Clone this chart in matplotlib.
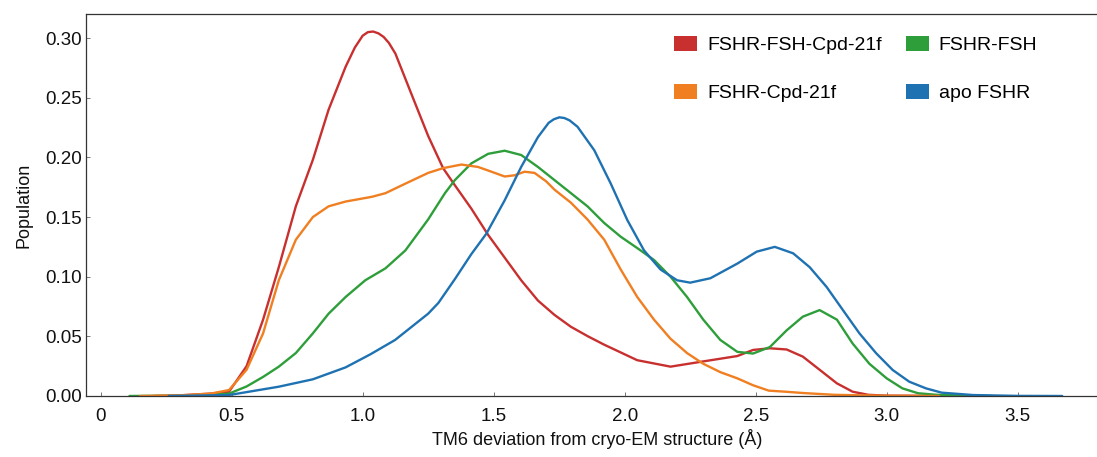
import matplotlib
matplotlib.use("Agg")
import matplotlib.pyplot as plt
from matplotlib.patches import Patch

plt.rcParams['font.family'] = ['Liberation Sans', 'DejaVu Sans']

# ---- data ----
labels = ["FSHR-FSH-Cpd-21f", "FSHR-Cpd-21f", "FSHR-FSH", "apo FSHR"]
colors = ["#c8302f", "#f07f22", "#2e9e3a", "#1f72b2"]

red_x = [0.20, 0.30, 0.42, 0.49, 0.557, 0.62, 0.68, 0.745, 0.81, 0.87, 0.935, 0.97, 1.0,
         1.02, 1.04, 1.06, 1.08, 1.10, 1.125, 1.19, 1.25, 1.307, 1.346, 1.415, 1.479, 1.542,
         1.605, 1.669, 1.732, 1.795, 1.86, 1.922, 2.048, 2.175, 2.30, 2.43, 2.49, 2.554,
         2.618, 2.68, 2.744, 2.81, 2.87, 2.93, 3.0, 3.3]
red_y = [0.0, 0.0005, 0.002, 0.0036, 0.025, 0.064, 0.108, 0.159, 0.198, 0.240, 0.276, 0.292,
         0.302, 0.305, 0.3055, 0.304, 0.301, 0.296, 0.287, 0.251, 0.218, 0.191, 0.1785,
         0.157, 0.135, 0.116, 0.097, 0.080, 0.068, 0.058, 0.050, 0.043, 0.030, 0.0246,
         0.029, 0.0335, 0.0386, 0.040, 0.039, 0.033, 0.022, 0.0106, 0.0036, 0.001, 0.0003,
         0.0]

orange_x = [0.15, 0.30, 0.42, 0.49, 0.557, 0.62, 0.68, 0.745, 0.81, 0.87, 0.935, 1.036, 1.087,
            1.163, 1.25, 1.307, 1.377, 1.44, 1.479, 1.542, 1.58, 1.618, 1.656, 1.70, 1.732,
            1.795, 1.858, 1.922, 1.985, 2.048, 2.112, 2.175, 2.238, 2.30, 2.365, 2.43, 2.49,
            2.55, 2.62, 2.68, 2.80, 3.0, 3.2]
orange_y = [0.0, 0.0005, 0.002, 0.005, 0.022, 0.0525, 0.097, 0.131, 0.150, 0.159, 0.163,
            0.167, 0.170, 0.178, 0.187, 0.191, 0.194, 0.192, 0.189, 0.184, 0.185, 0.188,
            0.187, 0.180, 0.173, 0.162, 0.148, 0.131, 0.106, 0.083, 0.064, 0.048, 0.036,
            0.027, 0.020, 0.0148, 0.009, 0.0045, 0.0035, 0.0025, 0.001, 0.0002, 0.0]

green_x = [0.11, 0.30, 0.42, 0.49, 0.557, 0.62, 0.68, 0.745, 0.81, 0.87, 0.935, 1.01, 1.087,
           1.163, 1.25, 1.314, 1.352, 1.415, 1.479, 1.542, 1.605, 1.669, 1.732, 1.795, 1.858,
           1.922, 1.985, 2.048, 2.112, 2.175, 2.238, 2.30, 2.365, 2.43, 2.49, 2.554, 2.618,
           2.68, 2.744, 2.81, 2.87, 2.934, 3.0, 3.06, 3.12, 3.19, 3.40]
green_y = [0.0, 0.0003, 0.001, 0.002, 0.008, 0.016, 0.0246, 0.036, 0.0525, 0.069, 0.083,
           0.097, 0.107, 0.122, 0.148, 0.170, 0.181, 0.195, 0.203, 0.2056, 0.202, 0.192,
           0.181, 0.170, 0.159, 0.145, 0.1335, 0.124, 0.114, 0.100, 0.083, 0.064, 0.047,
           0.037, 0.0356, 0.041, 0.055, 0.0665, 0.072, 0.064, 0.044, 0.027, 0.0148, 0.0064,
           0.0023, 0.001, 0.0]

blue_x = [0.26, 0.49, 0.68, 0.81, 0.935, 1.03, 1.124, 1.25, 1.289, 1.352, 1.415, 1.472, 1.542,
          1.605, 1.669, 1.71, 1.73, 1.751, 1.77, 1.79, 1.82, 1.884, 1.947, 2.01, 2.074, 2.137,
          2.20, 2.25, 2.327, 2.43, 2.504, 2.573, 2.643, 2.706, 2.77, 2.833, 2.896, 2.96,
          3.023, 3.086, 3.15, 3.21, 3.33, 3.50, 3.67]
blue_y = [0.0, 0.0008, 0.0078, 0.014, 0.024, 0.035, 0.047, 0.069, 0.078, 0.098, 0.119, 0.136,
          0.164, 0.192, 0.217, 0.229, 0.232, 0.2336, 0.233, 0.231, 0.2257, 0.206, 0.178,
          0.1475, 0.122, 0.106, 0.097, 0.095, 0.0987, 0.111, 0.121, 0.125, 0.1196, 0.108,
          0.0916, 0.072, 0.0525, 0.0358, 0.0218, 0.012, 0.0064, 0.0028, 0.0008, 0.0001, 0.0]

x_ticks = [0, 0.5, 1.0, 1.5, 2.0, 2.5, 3.0, 3.5]
x_tick_labels = ["0", "0.5", "1.0", "1.5", "2.0", "2.5", "3.0", "3.5"]
y_ticks = [0.0, 0.05, 0.10, 0.15, 0.20, 0.25, 0.30]
y_tick_labels = ["0.00", "0.05", "0.10", "0.15", "0.20", "0.25", "0.30"]

# ---- figure ----
W, H = 1097, 457
fig = plt.figure(figsize=(W / 100, H / 100), dpi=100)
ax = fig.add_axes([85.7 / W, 1 - 396 / H, (W - 85.7) / W, (396 - 14) / H])

series = [(red_x, red_y, colors[0]), (green_x, green_y, colors[2]),
          (orange_x, orange_y, colors[1]), (blue_x, blue_y, colors[3])]
for xs, ys, c in series:
    ax.plot(xs, ys, color=c, lw=1.7, solid_capstyle='round', solid_joinstyle='round')

ax.set_xlim(-0.057, (W - 100.7) / 262.0)
ax.set_ylim(0, 0.3202)
ax.set_xticks(x_ticks)
ax.set_xticklabels(x_tick_labels)
ax.set_yticks(y_ticks)
ax.set_yticklabels(y_tick_labels)

ax.spines['right'].set_visible(False)
for s in ['left', 'bottom', 'top']:
    ax.spines[s].set_color('#333333')
    ax.spines[s].set_linewidth(0.9)

ax.tick_params(axis='both', direction='in', length=3, width=0.7, color='#777777',
               labelsize=13.5, labelcolor='#111111')
ax.tick_params(axis='x', pad=8.5)
ax.tick_params(axis='y', pad=3)

ax.set_xlabel("TM6 deviation from cryo-EM structure (Å)", fontsize=13, color='#111111')
ax.set_ylabel("Population", fontsize=13, color='#111111')
ax.xaxis.set_label_coords((597 - 85.7) / (W - 85.7), -0.087)
ax.yaxis.set_label_coords(-0.053, 0.5)

handles = [Patch(facecolor=c, edgecolor='none') for c in colors]
fig.legend(handles, labels, loc='upper left', bbox_to_anchor=(674 / W, 1 - 36 / H),
           ncol=2, frameon=False, fontsize=14, handlelength=1.19, handleheight=0.78,
           handletextpad=0.52, columnspacing=1.22, labelspacing=1.55, borderpad=0,
           borderaxespad=0)

fig.savefig("out.png", dpi=100)
